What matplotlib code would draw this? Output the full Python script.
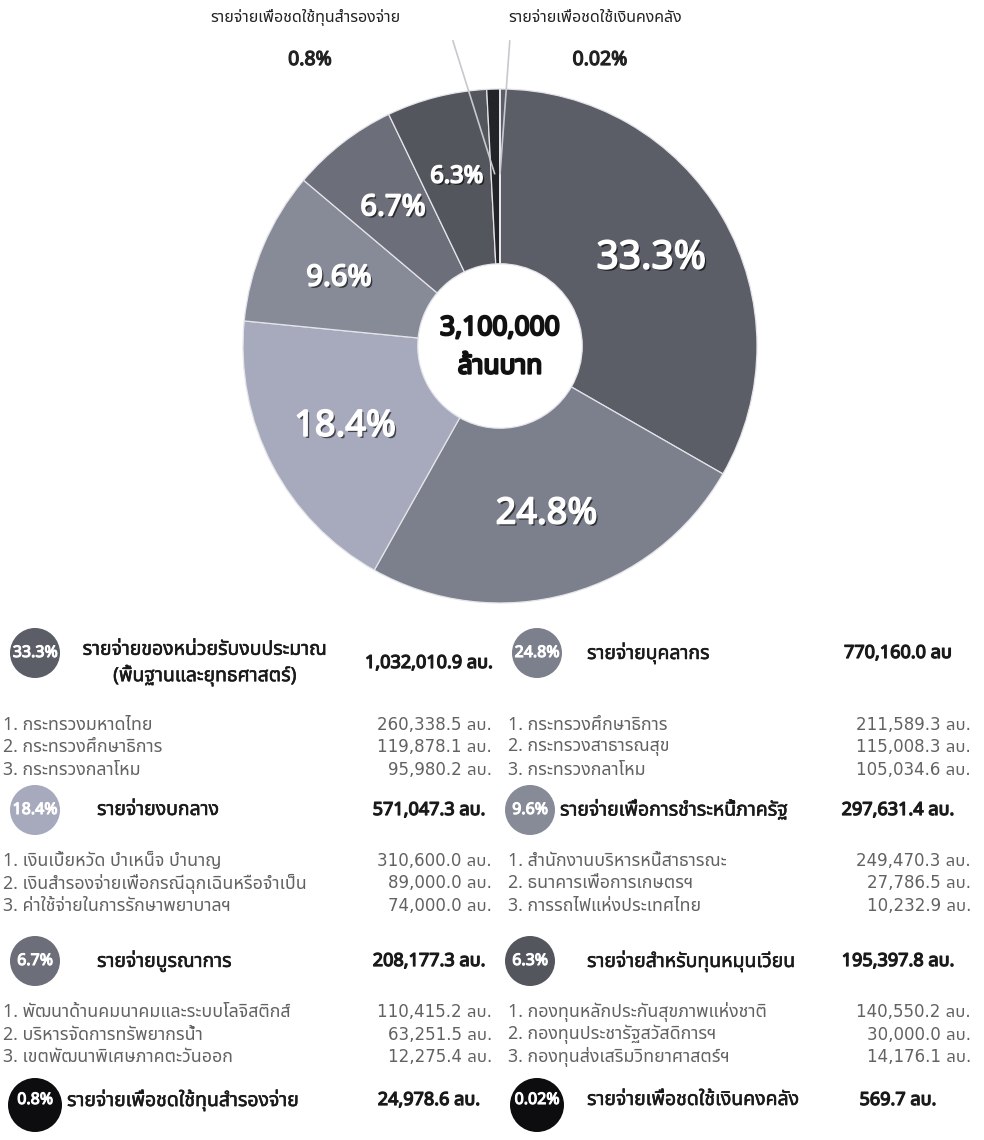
import numpy as np
import matplotlib
matplotlib.use('Agg')
import matplotlib.pyplot as plt
import matplotlib.patheffects as pe
from matplotlib import font_manager
from matplotlib.ft2font import FT2Font
from matplotlib.patches import Circle


def pick_thai_font():
    preferred = ['Noto Sans Thai', 'Noto Sans Thai Looped', 'Sarabun', 'Kanit', 'Prompt',
                 'Loma', 'Garuda', 'Waree', 'Norasi', 'Umpush', 'Kinnari', 'Sawasdee',
                 'Tlwg Typo', 'Purisa', 'FreeSans', 'Noto Serif Thai']
    found = {}
    for f in font_manager.fontManager.ttflist:
        if f.name in found:
            continue
        try:
            if FT2Font(f.fname).get_char_index(0x0E01):
                found[f.name] = f.fname
        except Exception:
            continue
    for name in preferred:
        if name in found:
            return name
    return next(iter(found), None)


thai = pick_thai_font()
thai_first = [thai, 'DejaVu Sans'] if thai else ['DejaVu Sans']
digits_first = ['DejaVu Sans', thai] if thai else ['DejaVu Sans']
plt.rcParams['font.family'] = thai_first

# ---- data (pie slices go clockwise from 12 o'clock) ----
categories = ['รายจ่ายของหน่วยรับงบประมาณ\n(พื้นฐานและยุทธศาสตร์)', 'รายจ่ายบุคลากร',
              'รายจ่ายงบกลาง', 'รายจ่ายเพื่อการชำระหนี้ภาครัฐ', 'รายจ่ายบูรณาการ',
              'รายจ่ายสำหรับทุนหมุนเวียน', 'รายจ่ายเพื่อชดใช้ทุนสำรองจ่าย',
              'รายจ่ายเพื่อชดใช้เงินคงคลัง']
amounts = [1032010.9, 770160.0, 571047.3, 297631.4, 208177.3, 195397.8, 24978.6, 569.7]
pct_labels = ['33.3%', '24.8%', '18.4%', '9.6%', '6.7%', '6.3%', '0.8%', '0.02%']
units = ['ลบ.', 'ลบ', 'ลบ.', 'ลบ.', 'ลบ.', 'ลบ.', 'ลบ.', 'ลบ.']
colors = ['#5b5d67', '#7c7f8c', '#a7aabd', '#878a97', '#6c6e79', '#54565e', '#232428', '#111113']
total_lines = ['3,100,000', 'ล้านบาท']

sub_items = [
    ['1. กระทรวงมหาดไทย', '2. กระทรวงศึกษาธิการ', '3. กระทรวงกลาโหม'],
    ['1. กระทรวงศึกษาธิการ', '2. กระทรวงสาธารณสุข', '3. กระทรวงกลาโหม'],
    ['1. เงินเบี้ยหวัด บำเหน็จ บำนาญ', '2. เงินสำรองจ่ายเพื่อกรณีฉุกเฉินหรือจำเป็น',
     '3. ค่าใช้จ่ายในการรักษาพยาบาลฯ'],
    ['1. สำนักงานบริหารหนี้สาธารณะ', '2. ธนาคารเพื่อการเกษตรฯ', '3. การรถไฟแห่งประเทศไทย'],
    ['1. พัฒนาด้านคมนาคมและระบบโลจิสติกส์', '2. บริหารจัดการทรัพยากรน้ำ',
     '3. เขตพัฒนาพิเศษภาคตะวันออก'],
    ['1. กองทุนหลักประกันสุขภาพแห่งชาติ', '2. กองทุนประชารัฐสวัสดิการฯ',
     '3. กองทุนส่งเสริมวิทยาศาสตร์ฯ'],
]
sub_amounts = [
    [260338.5, 119878.1, 95980.2],
    [211589.3, 115008.3, 105034.6],
    [310600.0, 89000.0, 74000.0],
    [249470.3, 27786.5, 10232.9],
    [110415.2, 63251.5, 12275.4],
    [140550.2, 30000.0, 14176.1],
]


def heavy(color, lw=1.0):
    # the Thai font has no bold face, so thicken it with a stroke
    return [pe.withStroke(linewidth=lw, foreground=color)]


# ---- figure ----
W, H = 984, 1140
fig = plt.figure(figsize=(W / 100, H / 100), dpi=100)
fig.patch.set_facecolor('white')

# pie axes: centre (500, 346) px, radius 257 px
cx, cy, R = 500, 346, 257
ax_pie = fig.add_axes([(cx - R) / W, 1 - (cy + R) / H, 2 * R / W, 2 * R / H])
wedges, _ = ax_pie.pie(amounts, colors=colors, startangle=90, counterclock=False,
                       radius=1.0,
                       wedgeprops=dict(width=0.68, edgecolor='#e4e4ea', linewidth=0.9))
ax_pie.set_xlim(-1, 1)
ax_pie.set_ylim(-1, 1)
ax_pie.set_aspect('equal')
ax_pie.axis('off')

label_sizes = [28, 26, 26, 21, 21, 17]
for w, lab, fs in zip(wedges[:6], pct_labels[:6], label_sizes):
    mid = np.deg2rad((w.theta1 + w.theta2) / 2)
    ax_pie.text(0.68 * np.cos(mid), 0.68 * np.sin(mid), lab, ha='center', va='center',
                color='white', fontsize=fs,
                path_effects=[pe.SimplePatchShadow(offset=(1.5, -1.5), shadow_rgbFace='black',
                                                   alpha=0.6),
                              pe.withStroke(linewidth=1.2, foreground='white')])

ax_pie.text(0, 0.07, total_lines[0], ha='center', va='center', fontsize=19,
            color='#111111', path_effects=heavy('#111111', 1.6))
ax_pie.text(0, -0.08, total_lines[1], ha='center', va='center', fontsize=19,
            color='#111111', path_effects=heavy('#111111', 1.6))

# leader lines for the two tiny slices
top_labels = [(6, 305, 310, 18), (7, 595, 600, 18)]
leader_ends = {6: (452, 38), 7: (510, 38)}
for idx, tx, px, ty in top_labels:
    w = wedges[idx]
    mid = np.deg2rad((w.theta1 + w.theta2) / 2)
    ex, ey = leader_ends[idx]
    ax_pie.annotate('', xy=(0.66 * np.cos(mid), 0.66 * np.sin(mid)),
                    xytext=(ex, H - ey), textcoords='figure pixels',
                    arrowprops=dict(arrowstyle='-', color='#c8c9d0', lw=1.2),
                    annotation_clip=False)

# overlay axes in pixel coordinates for all the text blocks
ax = fig.add_axes([0, 0, 1, 1], zorder=3)
ax.set_xlim(0, W)
ax.set_ylim(H, 0)
ax.axis('off')

for idx, tx, px, ty in top_labels:
    ax.text(tx, ty, categories[idx], ha='center', va='center', fontsize=11.5, color='#222222')
    ax.text(px, ty + 42, pct_labels[idx], ha='center', va='center', fontsize=14,
            color='#222222', path_effects=heavy('#222222', 0.9))

# detail table
left_groups = [0, 2, 4, 6]
right_groups = [1, 3, 5, 7]
row_y = [653, 810, 961, 1100]
item_y0 = [725, 861, 1012]
item_step = 22.5
badge_x = [[35, 35, 35, 35], [537, 530, 530, 537]]
header_x = [[205, 97, 97, 67], [587, 560, 587, 587]]
value_x = [429, 898]
item_x = [3, 508]
item_val_x = [492, 971]
ink = '#1a1a1a'
grey = '#626262'

for col, groups in enumerate([left_groups, right_groups]):
    for row, g in enumerate(groups):
        y = row_y[row]
        bx = badge_x[col][row]
        r = 27 if row == 3 else 25
        ax.add_patch(Circle((bx, y + (5 if row == 3 else 0)), r,
                            facecolor=colors[g] if g < 6 else '#0d0d0f', edgecolor='none'))
        ax.text(bx, y, pct_labels[g], ha='center', va='center', color='white',
                fontsize=11.5, path_effects=heavy('white', 0.8))
        if g == 0:
            ax.text(header_x[col][row], y + 10, categories[g], ha='center', va='center',
                    fontsize=14, color=ink, linespacing=1.25, path_effects=heavy(ink, 0.4))
            vy = y + 10
        else:
            ax.text(header_x[col][row], y, categories[g], ha='left', va='center',
                    fontsize=14, color=ink, path_effects=heavy(ink, 0.4))
            vy = y
        ax.text(value_x[col], vy, f'{amounts[g]:,.1f} {units[g]}', ha='center', va='center',
                fontsize=13, color=ink, path_effects=heavy(ink, 0.9))
        if row < 3:
            for k in range(3):
                iy = item_y0[row] + k * item_step
                ax.text(item_x[col], iy, sub_items[g][k], ha='left', va='center',
                        fontsize=12.8, color=grey)
                ax.text(item_val_x[col], iy, f'{sub_amounts[g][k]:,.1f} ลบ.', ha='right',
                        va='center', fontsize=12, color=grey, family=digits_first)

fig.savefig('out.png', dpi=100, facecolor='white')
